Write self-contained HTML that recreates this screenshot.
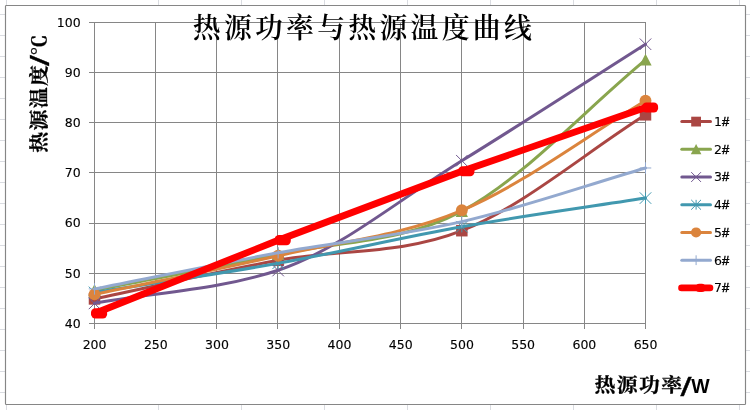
<!DOCTYPE html>
<html lang="zh"><head><meta charset="utf-8"><title>热源功率与热源温度曲线</title>
<style>html,body{margin:0;padding:0;background:#fff}body{width:750px;height:410px;overflow:hidden}svg{display:block}.num{font-family:"DejaVu Sans","Liberation Sans",sans-serif;font-size:12.5px;fill:#000;stroke:#000;stroke-width:0.12px}.sl{font-family:"Liberation Sans",sans-serif;fill:#000;stroke:#000;stroke-width:0.35px}.sb{font-family:"Liberation Sans",sans-serif;font-weight:700;fill:#000}.hash{font-family:"Liberation Sans",sans-serif;font-size:13px;stroke-width:0.45px}.cjk{font-family:"Liberation Serif","Noto Serif CJK SC",serif;fill:#000}</style></head><body>
<svg width="750" height="410" viewBox="0 0 750 410">
<rect width="750" height="410" fill="#fff"/>
<path d="M0 14.5 H750 M0 35.5 H750 M0 56.5 H750 M0 77.5 H750 M0 98.5 H750 M0 119.5 H750 M0 140.5 H750 M0 161.5 H750 M0 182.5 H750 M0 203.5 H750 M0 224.5 H750 M0 245.5 H750 M0 266.5 H750 M0 287.5 H750 M0 308.5 H750 M0 329.5 H750 M0 350.5 H750 M0 371.5 H750 M0 392.5 H750 M6.5 0 V410 M158.5 0 V410 M241.5 0 V410 M324.5 0 V410 M407.5 0 V410 M490.5 0 V410 M573.5 0 V410 M656.5 0 V410 M739.5 0 V410" stroke="#DADCE1" stroke-width="1" fill="none" shape-rendering="crispEdges"/>
<rect x="5.5" y="5.5" width="740" height="399" rx="0.8" fill="#fff" stroke="#868686" stroke-width="1.15"/>
<path d="M89 22.5 H646 M89 72.5 H646 M89 122.5 H646 M89 172.5 H646 M89 223.5 H646 M89 273.5 H646 M89 323.5 H646 M94.5 22 V329 M155.5 22 V329 M216.5 22 V329 M277.5 22 V329 M339.5 22 V329 M400.5 22 V329 M461.5 22 V329 M523.5 22 V329 M584.5 22 V329 M645.5 22 V329" stroke="#868686" stroke-width="1" fill="none" shape-rendering="crispEdges"/>
<text class="num" x="80.6" y="327.8" text-anchor="end">40</text>
<text class="num" x="80.6" y="277.63" text-anchor="end">50</text>
<text class="num" x="80.6" y="227.47" text-anchor="end">60</text>
<text class="num" x="80.6" y="177.3" text-anchor="end">70</text>
<text class="num" x="80.6" y="127.13" text-anchor="end">80</text>
<text class="num" x="80.6" y="76.97" text-anchor="end">90</text>
<text class="num" x="80.6" y="26.8" text-anchor="end">100</text>
<text class="num" x="94.6" y="349" text-anchor="middle">200</text>
<text class="num" x="155.82" y="349" text-anchor="middle">250</text>
<text class="num" x="217.04" y="349" text-anchor="middle">300</text>
<text class="num" x="278.27" y="349" text-anchor="middle">350</text>
<text class="num" x="339.49" y="349" text-anchor="middle">400</text>
<text class="num" x="400.71" y="349" text-anchor="middle">450</text>
<text class="num" x="461.93" y="349" text-anchor="middle">500</text>
<text class="num" x="523.16" y="349" text-anchor="middle">550</text>
<text class="num" x="584.38" y="349" text-anchor="middle">600</text>
<text class="num" x="645.6" y="349" text-anchor="middle">650</text>
<path d="M94.5 298.92 C155.72 286.04 216.94 271.66 278.17 260.29 C339.39 248.92 400.61 254.94 461.83 230.69 C523.06 206.44 584.28 153.44 645.5 114.81" fill="none" stroke="#AA4643" stroke-width="3" stroke-linecap="round" stroke-linejoin="round"/>
<rect x="88.75" y="293.17" width="11.5" height="11.5" fill="#AA4643"/>
<rect x="272.42" y="254.54" width="11.5" height="11.5" fill="#AA4643"/>
<rect x="456.08" y="224.94" width="11.5" height="11.5" fill="#AA4643"/>
<rect x="639.75" y="109.06" width="11.5" height="11.5" fill="#AA4643"/>
<path d="M94.5 290.14 C155.72 278.18 216.94 267.44 278.17 254.27 C339.39 241.1 400.61 243.53 461.83 211.13 C523.06 178.73 584.28 110.29 645.5 59.87" fill="none" stroke="#89A54E" stroke-width="3" stroke-linecap="round" stroke-linejoin="round"/>
<path d="M94.5 283.99 L100.65 295.89 L88.35 295.89 Z" fill="#89A54E"/>
<path d="M278.17 248.12 L284.32 260.02 L272.02 260.02 Z" fill="#89A54E"/>
<path d="M461.83 204.98 L467.98 216.88 L455.68 216.88 Z" fill="#89A54E"/>
<path d="M645.5 53.72 L651.65 65.62 L639.35 65.62 Z" fill="#89A54E"/>
<path d="M94.5 303.18 C155.72 292.2 216.94 290.41 278.17 270.22 C339.39 250.04 400.61 198.38 461.83 160.71 C523.06 123.04 584.28 83.05 645.5 44.22" fill="none" stroke="#71588F" stroke-width="3" stroke-linecap="round" stroke-linejoin="round"/>
<path d="M88.75 297.68L100.25 309.18M88.75 309.18L100.25 297.68" stroke="#71588F" stroke-width="1" fill="none"/>
<path d="M272.42 264.82L283.92 276.32M272.42 276.32L283.92 264.82" stroke="#71588F" stroke-width="1" fill="none"/>
<path d="M456.08 154.96L467.58 166.46M456.08 166.46L467.58 154.96" stroke="#71588F" stroke-width="1" fill="none"/>
<path d="M639.75 38.47L651.25 49.97M639.75 49.97L651.25 38.47" stroke="#71588F" stroke-width="1" fill="none"/>
<path d="M94.5 292.4 C155.72 282.7 216.94 274.25 278.17 263.3 C339.39 252.35 400.61 237.55 461.83 226.68 C523.06 215.81 584.28 207.61 645.5 198.08" fill="none" stroke="#4198AF" stroke-width="3" stroke-linecap="round" stroke-linejoin="round"/>
<path d="M88.75 286.65L100.25 298.15M88.75 298.15L100.25 286.65M94.5 286.65L94.5 298.15" stroke="#4198AF" stroke-width="1" fill="none"/>
<path d="M272.42 257.55L283.92 269.05M272.42 269.05L283.92 257.55M278.17 257.55L278.17 269.05" stroke="#4198AF" stroke-width="1" fill="none"/>
<path d="M456.08 220.93L467.58 232.43M456.08 232.43L467.58 220.93M461.83 220.93L461.83 232.43" stroke="#4198AF" stroke-width="1" fill="none"/>
<path d="M639.75 192.33L651.25 203.83M639.75 203.83L651.25 192.33M645.5 192.33L645.5 203.83" stroke="#4198AF" stroke-width="1" fill="none"/>
<path d="M94.5 294.4 C155.72 281.53 216.94 269.79 278.17 255.78 C339.39 241.76 400.61 236.16 461.83 210.32 C523.06 184.49 584.28 137.28 645.5 100.76" fill="none" stroke="#DB843D" stroke-width="3" stroke-linecap="round" stroke-linejoin="round"/>
<circle cx="94.5" cy="294.4" r="5.95" fill="#DB843D"/>
<circle cx="278.17" cy="255.78" r="5.95" fill="#DB843D"/>
<circle cx="461.83" cy="210.32" r="5.95" fill="#DB843D"/>
<circle cx="645.5" cy="100.76" r="5.95" fill="#DB843D"/>
<path d="M94.5 288.88 C155.72 276.84 216.94 263.97 278.17 252.76 C339.39 241.56 400.61 235.79 461.83 221.66 C523.06 207.53 584.28 185.88 645.5 167.98" fill="none" stroke="#93A9CF" stroke-width="3" stroke-linecap="round" stroke-linejoin="round"/>
<path d="M88.75 288.88L100.25 288.88M94.5 283.13L94.5 294.63" stroke="#93A9CF" stroke-width="1" fill="none"/>
<path d="M272.42 252.76L283.92 252.76M278.17 247.01L278.17 258.51" stroke="#93A9CF" stroke-width="1" fill="none"/>
<path d="M456.08 221.66L467.58 221.66M461.83 215.91L461.83 227.41" stroke="#93A9CF" stroke-width="1" fill="none"/>
<path d="M639.75 167.98L651.25 167.98M645.5 162.23L645.5 173.73" stroke="#93A9CF" stroke-width="1" fill="none"/>
<path d="M94.5 313.47 L278.17 240.22 L461.83 171.24 L645.5 107.53" fill="none" stroke="#FF0000" stroke-width="6.8" stroke-linecap="round" stroke-linejoin="round"/>
<rect x="91.1" y="308.37" width="16" height="10.1" rx="4.2" fill="#FF0000"/>
<rect x="274.77" y="235.12" width="16" height="10.1" rx="4.2" fill="#FF0000"/>
<rect x="458.43" y="166.14" width="16" height="10.1" rx="4.2" fill="#FF0000"/>
<rect x="642.1" y="102.43" width="16" height="10.1" rx="4.2" fill="#FF0000"/>
<path d="M681.8 121.6 H710.5" stroke="#AA4643" stroke-width="3" stroke-linecap="round"/>
<rect x="691.2" y="116.7" width="9.8" height="9.8" fill="#AA4643"/>
<text class="num" x="713.9" y="125.9">1<tspan class="hash" dx="0.1">#</tspan></text>
<path d="M681.8 149.32 H710.5" stroke="#89A54E" stroke-width="3" stroke-linecap="round"/>
<path d="M696.1 144.02 L701.4 154.22 L690.8 154.22 Z" fill="#89A54E"/>
<text class="num" x="713.9" y="153.62">2<tspan class="hash" dx="0.1">#</tspan></text>
<path d="M681.8 177.04 H710.5" stroke="#71588F" stroke-width="3" stroke-linecap="round"/>
<path d="M691.2 172.14L701 181.94M691.2 181.94L701 172.14" stroke="#71588F" stroke-width="1" fill="none"/>
<text class="num" x="713.9" y="181.34">3<tspan class="hash" dx="0.1">#</tspan></text>
<path d="M681.8 204.76 H710.5" stroke="#4198AF" stroke-width="3" stroke-linecap="round"/>
<path d="M691.2 199.86L701 209.66M691.2 209.66L701 199.86M696.1 199.86L696.1 209.66" stroke="#4198AF" stroke-width="1" fill="none"/>
<text class="num" x="713.9" y="209.06">4<tspan class="hash" dx="0.1">#</tspan></text>
<path d="M681.8 232.48 H710.5" stroke="#DB843D" stroke-width="3" stroke-linecap="round"/>
<circle cx="696.1" cy="232.48" r="5.1" fill="#DB843D"/>
<text class="num" x="713.9" y="236.78">5<tspan class="hash" dx="0.1">#</tspan></text>
<path d="M681.8 260.2 H710.5" stroke="#93A9CF" stroke-width="3" stroke-linecap="round"/>
<path d="M691.2 260.2L701 260.2M696.1 255.3L696.1 265.1" stroke="#93A9CF" stroke-width="1" fill="none"/>
<text class="num" x="713.9" y="264.5">6<tspan class="hash" dx="0.1">#</tspan></text>
<path d="M681.5 287.92 H710" stroke="#FF0000" stroke-width="6.6" stroke-linecap="round"/>
<rect x="695.8" y="283.72" width="9.5" height="8.4" rx="3.5" fill="#FF0000"/>
<text class="num" x="713.9" y="292.22">7<tspan class="hash" dx="0.1">#</tspan></text>
<text class="cjk" transform="translate(363.9 38.1) scale(0.985 1)" text-anchor="middle" font-size="28.3px" letter-spacing="3.3px" font-weight="600">热源功率与热源温度曲线</text>
<g transform="translate(594.6 392.4)">
<text class="cjk" transform="scale(1 0.945)" font-size="20.9px" font-weight="700" stroke="#000" stroke-width="0.3" letter-spacing="1.3px">热源功率</text>
<text class="sl" transform="translate(85.9 3.2) scale(1.5 1)" font-size="26.4px">/</text>
<text class="sb" x="96.7" y="0.6" font-size="19.5px">W</text>
</g>
<g transform="translate(46.2 152.7) rotate(-90)">
<text class="cjk" transform="scale(1 0.945)" font-size="20.9px" font-weight="700" stroke="#000" stroke-width="0.3" letter-spacing="1.3px">热源温度</text>
<text class="sl" transform="translate(86.6 3.2) scale(1.5 1)" font-size="26.4px">/</text>
<text class="cjk" x="97.2" y="0" transform="scale(1 0.945)" font-size="20.9px" font-weight="700" stroke="#000" stroke-width="0.3">℃</text>
</g>
</svg></body></html>
